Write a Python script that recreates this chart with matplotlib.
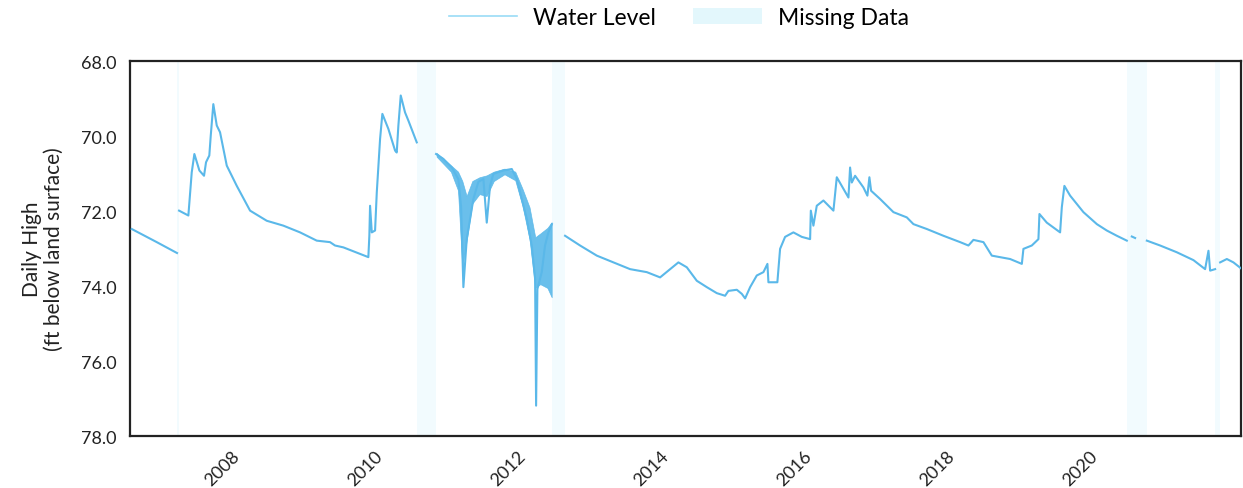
import numpy as np
import matplotlib.pyplot as plt
from matplotlib.lines import Line2D
from matplotlib.patches import Patch

plt.rcParams['font.family'] = ['Lato', 'DejaVu Sans']

nan = np.nan

# water level record (decimal year, ft below land surface); NaN = break in record
years = [
    2006.737, 2007.087, 2007.370, nan,
    2007.399, 2007.529, 2007.576, 2007.613, 2007.683, 2007.748, 2007.776, 2007.822,
    2007.842, 2007.878, 2007.926, 2007.972, 2008.066, 2008.206, 2008.392, 2008.625,
    2008.857, 2009.091, 2009.324, 2009.510, 2009.580, 2009.697, 2010.046, 2010.060,
    2010.070, 2010.094, 2010.140, 2010.164, 2010.210, 2010.242, 2010.326, 2010.420,
    2010.443, 2010.466, 2010.499, 2010.559, 2010.606, 2010.723, nan,
    2010.993, 2011.095, 2011.213, 2011.305, 2011.343, 2011.375, 2011.422, 2011.515,
    2011.585, 2011.655, 2011.702, 2011.748, 2011.794, 2011.934, 2012.052, 2012.122,
    2012.192, 2012.262, 2012.331, 2012.378, 2012.392, 2012.410, 2012.471, 2012.517,
    2012.564, 2012.612, nan,
    2012.797, 2013.007, 2013.241, 2013.473, 2013.706, 2013.940, 2014.126, 2014.266,
    2014.382, 2014.499, 2014.639, 2014.779, 2014.919, 2015.035, 2015.081, 2015.199,
    2015.269, 2015.315, 2015.385, 2015.478, 2015.571, 2015.627, 2015.641, 2015.766,
    2015.804, 2015.874, 2015.990, 2016.108, 2016.224, 2016.234, 2016.270, 2016.317,
    2016.410, 2016.550, 2016.597, 2016.667, 2016.760, 2016.783, 2016.807, 2016.853,
    2016.969, 2017.025, 2017.053, 2017.077, 2017.203, 2017.389, 2017.576, 2017.669,
    2017.856, 2018.088, 2018.322, 2018.438, 2018.508, 2018.648, 2018.765, 2019.021,
    2019.185, 2019.207, 2019.324, 2019.417, 2019.431, 2019.534, 2019.720, 2019.744,
    2019.780, 2019.860, 2020.046, 2020.234, 2020.373, 2020.513, 2020.653, nan,
    2020.723, 2020.769, nan,
    2020.933, 2021.119, 2021.352, 2021.585, 2021.748, 2021.795, 2021.818, 2021.888, nan,
    2021.958, 2022.052, 2022.144, 2022.250,
]
level = [
    72.48, 72.83, 73.12, nan,
    71.99, 72.12, 70.97, 70.48, 70.92, 71.06, 70.70, 70.52,
    69.99, 69.15, 69.72, 69.90, 70.79, 71.33, 71.99, 72.26,
    72.39, 72.57, 72.79, 72.83, 72.92, 72.97, 73.23, 72.66,
    71.86, 72.57, 72.52, 71.50, 70.08, 69.41, 69.81, 70.39,
    70.44, 69.72, 68.92, 69.37, 69.59, 70.17, nan,
    70.48, 70.61, 70.84, 71.15, 71.90, 74.03, 72.75, 71.68,
    71.22, 71.15, 72.31, 71.33, 71.01, 70.92, 70.88, 71.15,
    71.68, 72.21, 72.92, 73.81, 77.19, 74.08, 73.63, 72.92,
    72.57, 72.35, nan,
    72.66, 72.92, 73.19, 73.37, 73.55, 73.63, 73.77, 73.55,
    73.37, 73.50, 73.86, 74.03, 74.19, 74.26, 74.13, 74.10,
    74.21, 74.33, 74.03, 73.72, 73.63, 73.41, 73.90, 73.90,
    73.01, 72.69, 72.57, 72.69, 72.75, 71.99, 72.39, 71.86,
    71.72, 71.99, 71.10, 71.33, 71.64, 70.84, 71.24, 71.06,
    71.37, 71.59, 71.10, 71.46, 71.68, 72.03, 72.17, 72.35,
    72.48, 72.66, 72.83, 72.92, 72.77, 72.83, 73.19, 73.28,
    73.41, 73.01, 72.92, 72.75, 72.08, 72.31, 72.57, 71.90,
    71.33, 71.59, 72.03, 72.35, 72.52, 72.66, 72.79, nan,
    72.68, 72.72, nan,
    72.79, 72.92, 73.10, 73.31, 73.55, 73.06, 73.59, 73.55, nan,
    73.37, 73.28, 73.37, 73.53,
]

# daily scatter envelope in the noisy 2011-2012 stretch
band_years = [2011.00, 2011.20, 2011.30, 2011.36, 2011.42, 2011.50, 2011.60, 2011.70,
              2011.80, 2011.95, 2012.10, 2012.20, 2012.30, 2012.38, 2012.45, 2012.55, 2012.61]
band_top = [70.45, 70.78, 70.95, 71.20, 71.60, 71.20, 71.10, 71.05,
            70.95, 70.87, 70.95, 71.40, 71.90, 72.70, 72.60, 72.45, 72.30]
band_bottom = [70.55, 70.95, 71.45, 73.50, 72.80, 71.80, 71.55, 71.60,
               71.20, 71.02, 71.18, 71.85, 72.75, 74.05, 73.95, 74.05, 74.30]

# missing data periods (start, end)
missing = [(2007.37, 2007.40), (2010.72, 2010.99), (2012.61, 2012.80),
           (2020.65, 2020.93), (2021.89, 2021.96)]

tick_years = [2008, 2010, 2012, 2014, 2016, 2018, 2020]

line_color = '#5ab8e9'
miss_color = '#f2fbfe'

fig = plt.figure(figsize=(12.43, 4.89), dpi=100)
ax = fig.add_axes([0.1046, 0.1063, 0.8938, 0.7669])

for start, end in missing:
    ax.axvspan(start, end, color=miss_color, lw=0, zorder=0)

ax.fill_between(band_years, band_top, band_bottom, color=line_color, lw=0.5,
                alpha=0.9, zorder=2)
ax.plot(years, level, color=line_color, lw=1.5, zorder=3)

ax.set_xlim(2006.713, 2022.25)
ax.set_ylim(78, 68)
ax.set_yticks([68, 70, 72, 74, 76, 78])
ax.set_yticklabels([f'{v:.1f}' for v in [68, 70, 72, 74, 76, 78]])
ax.set_xticks(tick_years)
ax.set_xticklabels([str(y) for y in tick_years], rotation=45, ha='center')
ax.tick_params(axis='both', length=0, labelsize=13, colors='#222222')
ax.tick_params(axis='y', pad=10)
ax.tick_params(axis='x', pad=8)
for s in ax.spines.values():
    s.set_color('#222222')
    s.set_linewidth(1.6)

ax.set_ylabel('Daily High\n(ft below land surface)', fontsize=15, color='#222222',
              labelpad=12, linespacing=1.1)

handles = [Line2D([0], [0], color='#9adcf6', lw=1.2),
           Patch(facecolor='#e3f7fc', edgecolor='none')]
fig.legend(handles, ['Water Level', 'Missing Data'], loc='center',
           bbox_to_anchor=(0.546, 0.963), ncol=2, frameon=False, fontsize=16.5,
           handlelength=3.0, columnspacing=1.6, handletextpad=0.7)

plt.savefig('out.png', dpi=100)
